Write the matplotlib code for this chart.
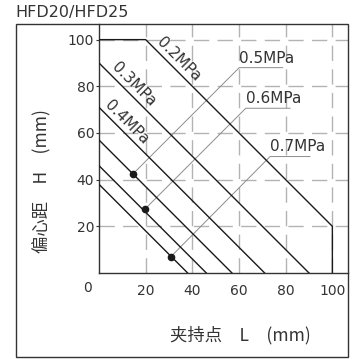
import matplotlib
matplotlib.use("Agg")
import matplotlib.pyplot as plt
from matplotlib.patches import Rectangle

plt.rcParams['font.family'] = ['DejaVu Sans']

# pressure limit lines: L + H = const (0.2MPa is clipped at 100 / 100)
press_labels = ['0.2MPa', '0.3MPa', '0.4MPa', '0.5MPa', '0.6MPa', '0.7MPa']
limit_sum = [120, 90, 71, 57, 46, 38]
max_L = 100
max_H = 100

# marked points on the 0.5 / 0.6 / 0.7 lines and where their leaders end
dot_L = [14.4, 19.6, 30.7]
dot_H = [42.3, 27.3, 6.9]
leader_L = [60.1, 62.9, 73.3]
leader_H = [88.0, 70.6, 49.9]
underline_end = [78.7, 81.9, 90.4]

# labels written along the 0.2 / 0.3 / 0.4 lines
diag_L = [34.3, 14.8, 11.8]
diag_H = [91.7, 81.0, 64.5]

ticks = [0, 20, 40, 60, 80, 100]

W, H = 361, 359
fig = plt.figure(figsize=(W / 100, H / 100), dpi=100)
ax = fig.add_axes([99 / W, 1 - 273 / H, 249 / W, 249 / H])
ax.set_xlim(0, 106.7)
ax.set_ylim(0, 106.7)

txt = '#333333'
ink = '#1a1a1a'

# dashed grid
for t in ticks[1:]:
    ax.axvline(t, color='#b3b3b3', lw=1.0, ls=(0, (11, 6)), zorder=1)
    ax.axhline(t, color='#b3b3b3', lw=1.0, ls=(0, (11, 6)), zorder=1)

# limit lines
for i, s in enumerate(limit_sum):
    if s > max_L:
        xs = [0, s - max_H, max_L, max_L]
        ys = [max_H, max_H, s - max_L, 0]
    else:
        xs = [0, s]
        ys = [s, 0]
    ax.plot(xs, ys, color=ink, lw=1.0, zorder=3, solid_joinstyle='miter')

# leaders + underlined labels
for i in range(3):
    ax.plot([dot_L[i], leader_L[i], underline_end[i]],
            [dot_H[i], leader_H[i], leader_H[i]], color='#8c8c8c', lw=0.7, zorder=2)
    ax.plot(dot_L[i], dot_H[i], 'o', color=ink, ms=4.5, zorder=4)
    ax.text(leader_L[i], leader_H[i] + 0.9, press_labels[i + 3], ha='left', va='bottom',
            fontsize=11, color=txt, zorder=5)

for i in range(3):
    ax.text(diag_L[i], diag_H[i], press_labels[i], rotation=-45, ha='center', va='center',
            rotation_mode='anchor', fontsize=11, color=txt, zorder=5)

# axes look
for side in ['top', 'right']:
    ax.spines[side].set_visible(False)
for side in ['left', 'bottom']:
    ax.spines[side].set_color('#333333')
    ax.spines[side].set_linewidth(1.0)
ax.set_xticks(ticks)
ax.set_xticklabels([''] + [str(t) for t in ticks[1:]])
ax.set_yticks(ticks[1:])
ax.set_yticklabels([str(t) for t in ticks[1:]])
ax.tick_params(axis='x', length=0, pad=8, labelsize=10, labelcolor=txt)
ax.tick_params(axis='y', length=2.5, width=0.8, pad=1, labelsize=10, labelcolor=txt, color='#333333')
ax.annotate('0', xy=(0, 0), xytext=(-12, -15), textcoords='offset pixels',
            ha='center', va='center', fontsize=10, color=txt)

# outer frame
fig.patches.append(Rectangle((16 / W, 1 - 357 / H), 332 / W, 333 / H, transform=fig.transFigure,
                             fill=False, edgecolor='#333333', lw=1.0))

cjk = ['Noto Sans CJK SC', 'DejaVu Sans']
fig.text(15 / W, 1 - 12.8 / H, 'HFD20/HFD25', ha='left', va='center', fontsize=11.5, color=txt)
fig.text(240 / W, 1 - 335 / H, '夹持点　L　(mm)', ha='center', va='center',
         fontsize=12.5, color=txt, family=cjk)
fig.text(42 / W, 1 - 181 / H, '偏心距　H　(mm)', ha='center', va='center', rotation=90,
         fontsize=12.5, color=txt, family=cjk)

fig.savefig('out.png', dpi=100)
